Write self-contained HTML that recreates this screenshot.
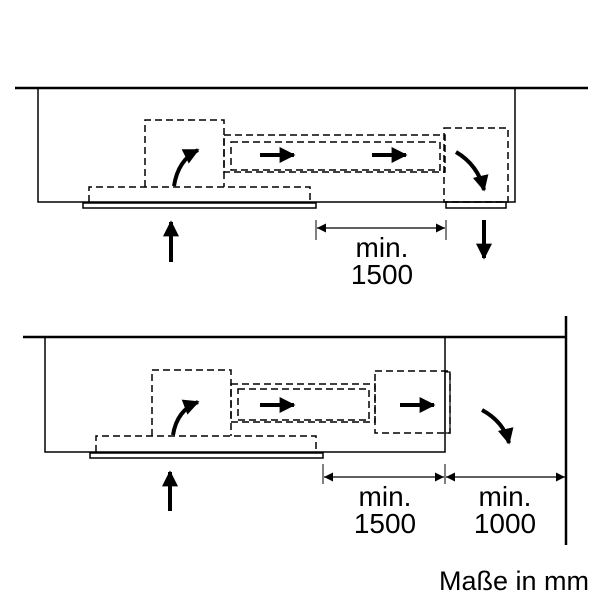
<!DOCTYPE html>
<html><head><meta charset="utf-8"><style>body{margin:0;background:#fff}</style></head><body>
<svg width="600" height="600" viewBox="0 0 600 600" xmlns="http://www.w3.org/2000/svg" font-family="Liberation Sans, sans-serif">
<defs>
<marker id="a" viewBox="0 0 10 10" refX="9" refY="5" markerWidth="4" markerHeight="4" orient="auto"><path d="M0,0L10,5L0,10z" fill="#000"/></marker>
<marker id="d" viewBox="0 0 10 10" refX="10" refY="5" markerWidth="13" markerHeight="9" markerUnits="userSpaceOnUse" orient="auto-start-reverse"><path d="M0,0L10,5L0,10z" fill="#000"/></marker>
</defs>
<g fill="none" stroke="#000">
<!-- TOP -->
<line x1="15" y1="88" x2="588" y2="88" stroke-width="2.5"/>
<path d="M38,88V202H515V88" stroke-width="1.5"/>
<rect x="83" y="203" width="233" height="5" stroke-width="1.5"/>
<rect x="446" y="202" width="60" height="6" stroke-width="1.5"/>
<g stroke-dasharray="7,4" stroke-width="1.5">
<path d="M89,202V187H310V202"/>
<path d="M145,187V120H224V187"/>
<rect x="224" y="135" width="221" height="37"/>
<rect x="231" y="142" width="209" height="28"/>
<rect x="444" y="128" width="64" height="74"/>
</g>
<path d="M174,186 Q178,160 198,150" stroke-width="4" marker-end="url(#a)"/>
<line x1="260" y1="155" x2="294" y2="155" stroke-width="4" marker-end="url(#a)"/>
<line x1="372" y1="155" x2="406" y2="155" stroke-width="4" marker-end="url(#a)"/>
<path d="M456,152 Q478,165 484,190" stroke-width="4" marker-end="url(#a)"/>
<line x1="171" y1="262" x2="171" y2="222" stroke-width="4" marker-end="url(#a)"/>
<line x1="484" y1="220" x2="484" y2="258" stroke-width="4" marker-end="url(#a)"/>
<line x1="316" y1="220" x2="316" y2="240" stroke-width="1"/>
<line x1="446" y1="220" x2="446" y2="240" stroke-width="1"/>
<line x1="317" y1="228" x2="445" y2="228" stroke-width="1.2" marker-start="url(#d)" marker-end="url(#d)"/>
<!-- BOTTOM -->
<line x1="23" y1="337" x2="566" y2="337" stroke-width="2.5"/>
<line x1="566" y1="316" x2="566" y2="545" stroke-width="2.5"/>
<path d="M45,337V452H445V337" stroke-width="1.5"/>
<rect x="90" y="453" width="233" height="5" stroke-width="1.5"/>
<rect x="445" y="372" width="5" height="61" stroke-width="1.2"/>
<g stroke-dasharray="7,4" stroke-width="1.5">
<path d="M96,452V436H316V452"/>
<path d="M152,436V370H231V436"/>
<rect x="231" y="384" width="144" height="38"/>
<rect x="238" y="389" width="131" height="31"/>
<rect x="375" y="371" width="75" height="62"/>
</g>
<path d="M173,435 Q177,410 198,402" stroke-width="4" marker-end="url(#a)"/>
<line x1="260" y1="405" x2="294" y2="405" stroke-width="4" marker-end="url(#a)"/>
<line x1="400" y1="405" x2="434" y2="405" stroke-width="4" marker-end="url(#a)"/>
<path d="M482,410 Q504,422 509,443" stroke-width="4" marker-end="url(#a)"/>
<line x1="170" y1="511" x2="170" y2="472" stroke-width="4" marker-end="url(#a)"/>
<line x1="323" y1="464" x2="323" y2="484" stroke-width="1"/>
<line x1="445" y1="464" x2="445" y2="484" stroke-width="1"/>
<line x1="324" y1="477" x2="444" y2="477" stroke-width="1.2" marker-start="url(#d)" marker-end="url(#d)"/>
<line x1="446" y1="477" x2="565" y2="477" stroke-width="1.2" marker-start="url(#d)" marker-end="url(#d)"/>
</g>
<g font-size="28" text-anchor="middle" fill="#000">
<text x="382" y="257">min.</text><text x="382" y="284">1500</text>
<text x="385" y="506">min.</text><text x="385" y="533">1500</text>
<text x="505" y="506">min.</text><text x="505" y="533">1000</text>
</g>
<text x="589" y="590" font-size="27" text-anchor="end" fill="#000">Maße in mm</text>
</svg>
</body></html>
